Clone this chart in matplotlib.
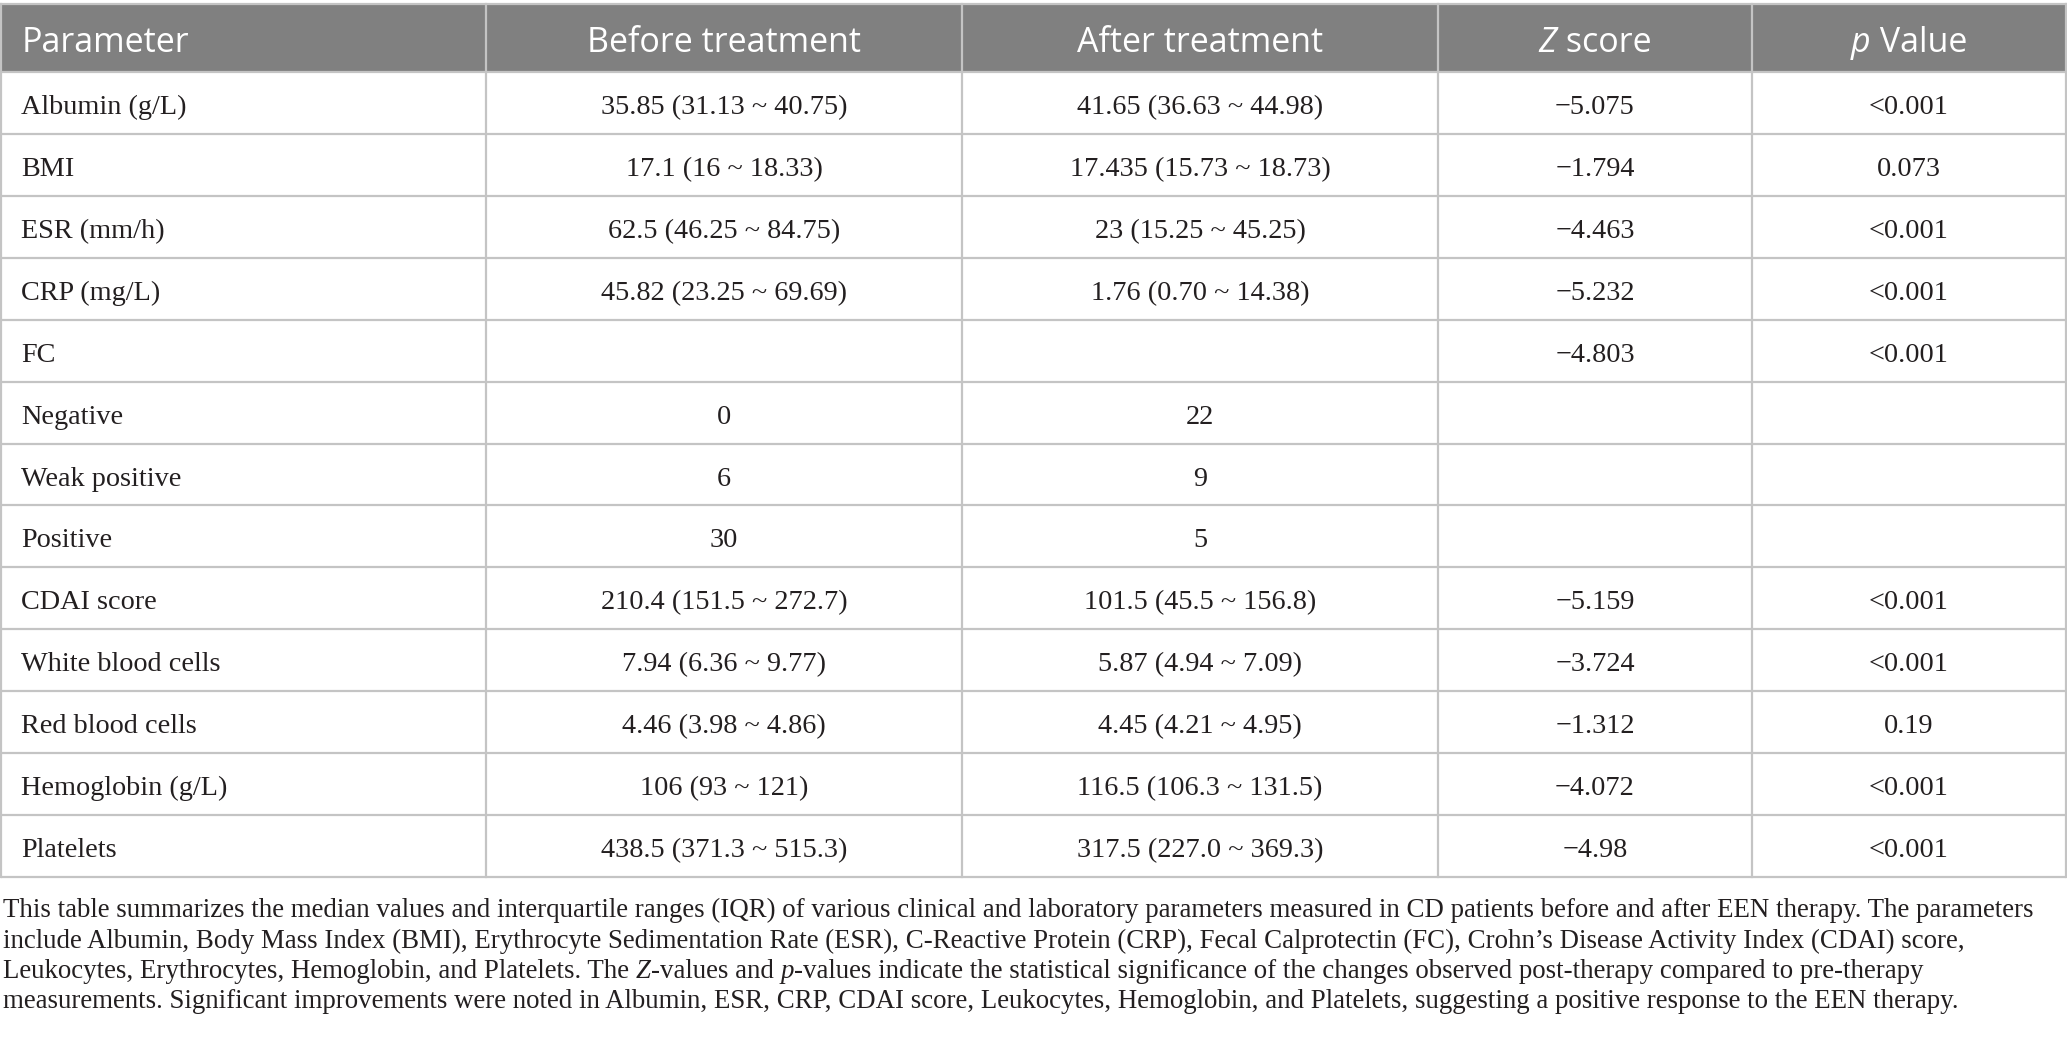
import matplotlib
matplotlib.use('Agg')
import matplotlib.pyplot as plt
from matplotlib.font_manager import FontProperties
from matplotlib.patches import Rectangle

# table content
headers = [[('Parameter', 'normal')],
           [('Before treatment', 'normal')],
           [('After treatment', 'normal')],
           [('Z', 'italic'), (' score', 'normal')],
           [('p', 'italic'), (' Value', 'normal')]]
params = ['Albumin (g/L)', 'BMI', 'ESR (mm/h)', 'CRP (mg/L)', 'FC', 'Negative',
          'Weak positive', 'Positive', 'CDAI score', 'White blood cells',
          'Red blood cells', 'Hemoglobin (g/L)', 'Platelets']
before = ['35.85 (31.13 ~ 40.75)', '17.1 (16 ~ 18.33)', '62.5 (46.25 ~ 84.75)',
          '45.82 (23.25 ~ 69.69)', '', '0', '6', '30', '210.4 (151.5 ~ 272.7)',
          '7.94 (6.36 ~ 9.77)', '4.46 (3.98 ~ 4.86)', '106 (93 ~ 121)',
          '438.5 (371.3 ~ 515.3)']
after = ['41.65 (36.63 ~ 44.98)', '17.435 (15.73 ~ 18.73)', '23 (15.25 ~ 45.25)',
         '1.76 (0.70 ~ 14.38)', '', '22', '9', '5', '101.5 (45.5 ~ 156.8)',
         '5.87 (4.94 ~ 7.09)', '4.45 (4.21 ~ 4.95)', '116.5 (106.3 ~ 131.5)',
         '317.5 (227.0 ~ 369.3)']
z_score = ['\u22125.075', '\u22121.794', '\u22124.463', '\u22125.232', '\u22124.803',
           '', '', '', '\u22125.159', '\u22123.724', '\u22121.312', '\u22124.072',
           '\u22124.98']
p_value = ['<0.001', '0.073', '<0.001', '<0.001', '<0.001', '', '', '',
           '<0.001', '<0.001', '0.19', '<0.001', '<0.001']

caption = [
    [('This table summarizes the median values and interquartile ranges (IQR) of various clinical and laboratory parameters measured in CD patients before and after EEN therapy. The parameters', 'normal')],
    [('include Albumin, Body Mass Index (BMI), Erythrocyte Sedimentation Rate (ESR), C-Reactive Protein (CRP), Fecal Calprotectin (FC), Crohn\u2019s Disease Activity Index (CDAI) score,', 'normal')],
    [('Leukocytes, Erythrocytes, Hemoglobin, and Platelets. The ', 'normal'), ('Z', 'italic'),
     ('-values and ', 'normal'), ('p', 'italic'),
     ('-values indicate the statistical significance of the changes observed post-therapy compared to pre-therapy', 'normal')],
    [('measurements. Significant improvements were noted in Albumin, ESR, CRP, CDAI score, Leukocytes, Hemoglobin, and Platelets, suggesting a positive response to the EEN therapy.', 'normal')],
]

W, H = 2067, 1042
col_edges = [1, 486, 962, 1438, 1752, 2066]
top, head_bot, tab_bot = 4, 72, 877
header_bg = '#808080'
grid_col = '#c4c4c4'
ink = '#231f20'

fig = plt.figure(figsize=(W / 100, H / 100), dpi=100)
ax = fig.add_axes([0, 0, 1, 1])
ax.set_xlim(0, W)
ax.set_ylim(H, 0)
ax.axis('off')
renderer = fig.canvas.get_renderer()


def run_width(s, prop):
    w1, _, _ = renderer.get_text_width_height_descent('|' + s + '|', prop, ismath=False)
    w2, _, _ = renderer.get_text_width_height_descent('||', prop, ismath=False)
    return w1 - w2


def draw_runs(x, y, runs, family, size, color, ha='left'):
    props = [FontProperties(family=family, size=size, style=st) for _, st in runs]
    widths = [run_width(s, p) for (s, _), p in zip(runs, props)]
    if ha == 'center':
        x = x - sum(widths) / 2
    for (s, _), p, w in zip(runs, props, widths):
        ax.text(x, y, s, fontproperties=p, color=color, va='baseline', ha='left')
        x += w


# header band
ax.add_patch(Rectangle((col_edges[0], top), col_edges[-1] - col_edges[0],
                       head_bot - top, facecolor=header_bg, edgecolor='none'))

n = len(params)
row_h = (tab_bot - head_bot) / n

# grid lines
for i in range(n + 1):
    y = head_bot + i * row_h
    ax.plot([col_edges[0], col_edges[-1]], [y, y], color=grid_col, lw=1.6,
            solid_capstyle='butt')
ax.plot([col_edges[0], col_edges[-1]], [top, top], color=grid_col, lw=1.6)
for x in col_edges:
    ax.plot([x, x], [top, tab_bot], color=grid_col, lw=1.6)

head_font = 'Open Sans'
body_font = 'Liberation Serif'
head_size = 24.5
body_size = 20.3

# header text
for j, runs in enumerate(headers):
    if j == 0:
        draw_runs(22, 52, runs, head_font, head_size, 'white')
    else:
        cx = (col_edges[j] + col_edges[j + 1]) / 2
        draw_runs(cx, 52, runs, head_font, head_size, 'white', ha='center')

# body
columns = [params, before, after, z_score, p_value]
for i in range(n):
    yb = head_bot + (i + 0.5) * row_h + 11
    for j, col in enumerate(columns):
        if not col[i]:
            continue
        if j == 0:
            ax.text(21, yb, col[i], family=body_font, size=body_size, color=ink,
                    va='baseline', ha='left')
        else:
            cx = (col_edges[j] + col_edges[j + 1]) / 2
            ax.text(cx, yb, col[i], family=body_font, size=body_size, color=ink,
                    va='baseline', ha='center')

# caption, size fitted so the first line spans the width of the original
cap_size = 18
w0 = run_width(caption[0][0][0], FontProperties(family=body_font, size=cap_size))
cap_size = cap_size * (2040 - 3) / w0
cap_base = [917, 948, 978, 1008]
for yb, runs in zip(cap_base, caption):
    draw_runs(3, yb, runs, body_font, cap_size, ink)

fig.savefig('out.png', dpi=100)
